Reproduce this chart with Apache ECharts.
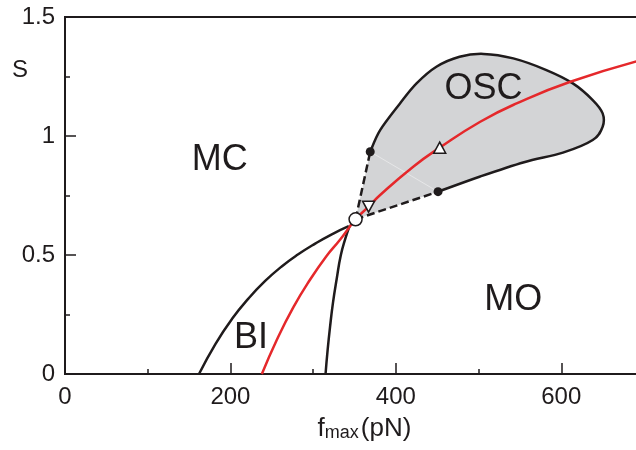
<!DOCTYPE html>
<html>
<head>
<meta charset="utf-8">
<script src="https://cdn.jsdelivr.net/npm/echarts@6/dist/echarts.min.js"></script>
<style>html,body{margin:0;padding:0;background:#fff}#c{width:636px;height:450px}</style>
</head>
<body>
<div id="c"></div>
<script>
// ---- data (f_max in pN, S) ----
const xTicks = [0, 200, 400, 600];
const yTicks = [0, 0.5, 1, 1.5];
// MC / BI boundary
const boundaryLeft = [[162,0],[182,0.127],[202,0.232],[222,0.318],[242,0.391],[262,0.452],[282,0.503],[302,0.547],[322,0.586],[343,0.621]];
// BI / MO boundary (steep)
const boundarySteep = [[315,0],[317.5,0.1],[320.5,0.2],[324,0.3],[328.5,0.4],[333.5,0.5],[339,0.57],[344,0.622]];
// red curve
const redCurve = [[238,0],[256,0.143],[276,0.28],[296,0.395],[316,0.495],[332,0.562],[344,0.618],[351,0.65],[367,0.703],[381,0.752],[421,0.871],[453,0.951],[502,1.06],[546,1.137],[611,1.228],[700,1.322]];
// OSC loop: from upper dot around to lower dot
const oscBoundary = [[369,0.934],[381,1.025],[405,1.137],[425,1.221],[449,1.291],[477,1.333],[506,1.345],[542,1.326],[582,1.277],[614,1.221],[638,1.151],[650,1.095],[650,1.039],[638,0.983],[602,0.93],[555,0.89],[502,0.83],[451,0.766]];
const openCircle = [[351.3,0.65]];
const filledDots = [[369,0.934],[451,0.766]];
const triUp = [[453,0.951]];
const triDown = [[367,0.703]];
const regionLabels = ['MC','OSC','MO','BI'];
const regionLabelPos = [[187,0.898],[506,1.196],[542,0.311],[225,0.153]];

const BLACK = '#1f1b1c', RED = '#e5282b', GREY = '#d3d4d6';
const FONT = '"Liberation Sans", Arial, Helvetica, sans-serif';

function catmull(pts){
  let d = '';
  for (let i = 0; i < pts.length - 1; i++) {
    const p0 = pts[i-1] || pts[i], p1 = pts[i], p2 = pts[i+1], p3 = pts[i+2] || p2;
    const c1 = [p1[0] + (p2[0]-p0[0])/6, p1[1] + (p2[1]-p0[1])/6];
    const c2 = [p2[0] - (p3[0]-p1[0])/6, p2[1] - (p3[1]-p1[1])/6];
    d += ' C' + c1[0] + ',' + c1[1] + ' ' + c2[0] + ',' + c2[1] + ' ' + p2[0] + ',' + p2[1];
  }
  return d;
}

const chart = echarts.init(document.getElementById('c'), null, {renderer:'canvas'});
chart.setOption({
  animation: false,
  backgroundColor: '#fff',
  grid: {left: 65, top: 17, right: -8, bottom: 76, show: true, borderColor: BLACK, borderWidth: 2, backgroundColor: 'transparent', containLabel: false, outerBoundsMode: 'none'},
  xAxis: {
    type: 'value', min: 0, max: 700, interval: 200,
    axisLine: {show: true, lineStyle: {color: BLACK, width: 2}},
    axisTick: {show: true, inside: true, length: 11, lineStyle: {color: BLACK, width: 1.5}},
    minorTick: {show: true, splitNumber: 2, length: 5, lineStyle: {color: BLACK, width: 1.5}},
    splitLine: {show: false},
    axisLabel: {margin: 11, fontSize: 24, color: BLACK, fontFamily: FONT, showMaxLabel: false,
      formatter: v => xTicks.indexOf(v) >= 0 ? String(v) : ''},
    name: '{f|f}{sub|max}{p|(pN)}',
    nameLocation: 'middle', nameGap: 42,
    nameTextStyle: {
      padding: [0,0,0,20],
      rich: {
        f: {fontSize: 26, fontFamily: FONT, color: BLACK, verticalAlign: 'top', lineHeight: 26, padding: [0,0,4,0]},
        p: {fontSize: 26, fontFamily: FONT, color: BLACK, verticalAlign: 'top', lineHeight: 26, padding: [0,0,4,2]},
        sub: {fontSize: 18, fontFamily: FONT, color: BLACK, verticalAlign: 'bottom', lineHeight: 18}
      }
    }
  },
  yAxis: {
    type: 'value', min: 0, max: 1.5, interval: 0.5,
    axisLine: {show: true, lineStyle: {color: BLACK, width: 2}},
    axisTick: {show: true, inside: true, length: 11, lineStyle: {color: BLACK, width: 1.5}},
    minorTick: {show: true, splitNumber: 2, length: 5, lineStyle: {color: BLACK, width: 1.5}},
    splitLine: {show: false},
    axisLabel: {margin: 10, fontSize: 24, color: BLACK, fontFamily: FONT,
      formatter: v => yTicks.indexOf(v) >= 0 ? String(v) : ''}
  },
  graphic: [{type: 'text', left: 12, top: 58, style: {text: 'S', fontSize: 24, fontFamily: FONT, fill: BLACK}}],
  series: [
    {
      type: 'custom', z: 1, silent: true,
      data: [openCircle[0]],
      renderItem: function(params, api){
        const c = api.coord(openCircle[0]);
        const up = api.coord(filledDots[0]);
        const lo = api.coord(filledDots[1]);
        const loop = oscBoundary.map(p => api.coord(p));
        const curve = catmull(loop);
        const fillD = 'M' + c[0] + ',' + c[1] + ' L' + loop[0][0] + ',' + loop[0][1] + curve + ' Z';
        const strokeD = 'M' + loop[0][0] + ',' + loop[0][1] + curve;
        return {type: 'group', children: [
          {type: 'path', shape: {pathData: fillD}, style: {fill: GREY, stroke: null}},
          {type: 'line', shape: {x1: up[0], y1: up[1], x2: lo[0], y2: lo[1]}, style: {stroke: 'rgba(255,255,255,0.55)', lineWidth: 0.8}},
          {type: 'path', shape: {pathData: strokeD}, style: {fill: 'none', stroke: BLACK, lineWidth: 2.5}}
        ]};
      }
    },
    {type: 'line', z: 2, data: boundaryLeft, smooth: true, showSymbol: false, symbol: 'none', lineStyle: {color: BLACK, width: 2.5}},
    {type: 'line', z: 2, data: boundarySteep, smooth: true, showSymbol: false, symbol: 'none', lineStyle: {color: BLACK, width: 2.5}},
    {type: 'line', z: 2, data: [openCircle[0], filledDots[0]], showSymbol: false, symbol: 'none', lineStyle: {color: BLACK, width: 2.5, type: [8,4]}},
    {type: 'line', z: 2, data: [openCircle[0], filledDots[1]], showSymbol: false, symbol: 'none', lineStyle: {color: BLACK, width: 2.5, type: [8,4]}},
    {type: 'line', z: 3, data: redCurve, smooth: true, showSymbol: false, symbol: 'none', lineStyle: {color: RED, width: 2.5}},
    {type: 'scatter', z: 4, data: filledDots, symbol: 'circle', symbolSize: 9, itemStyle: {color: BLACK, opacity: 1}},
    {type: 'scatter', z: 4, data: openCircle, symbol: 'circle', symbolSize: 13, itemStyle: {color: '#fff', borderColor: BLACK, borderWidth: 1.5, opacity: 1}},
    {type: 'scatter', z: 4, data: triUp, symbol: 'triangle', symbolSize: [12, 11], itemStyle: {color: '#fff', borderColor: BLACK, borderWidth: 1.5, opacity: 1}},
    {type: 'scatter', z: 4, data: triDown, symbol: 'triangle', symbolRotate: 180, symbolSize: [12, 11], itemStyle: {color: '#fff', borderColor: BLACK, borderWidth: 1.5, opacity: 1}},
    {type: 'scatter', z: 5, silent: true, symbolSize: 0, itemStyle: {opacity: 1},
      data: regionLabels.map((n, i) => ({name: n, value: regionLabelPos[i]})),
      label: {show: true, position: 'inside', formatter: p => p.name, fontSize: 36, fontFamily: FONT, color: BLACK}}
  ]
});
</script>
</body>
</html>
